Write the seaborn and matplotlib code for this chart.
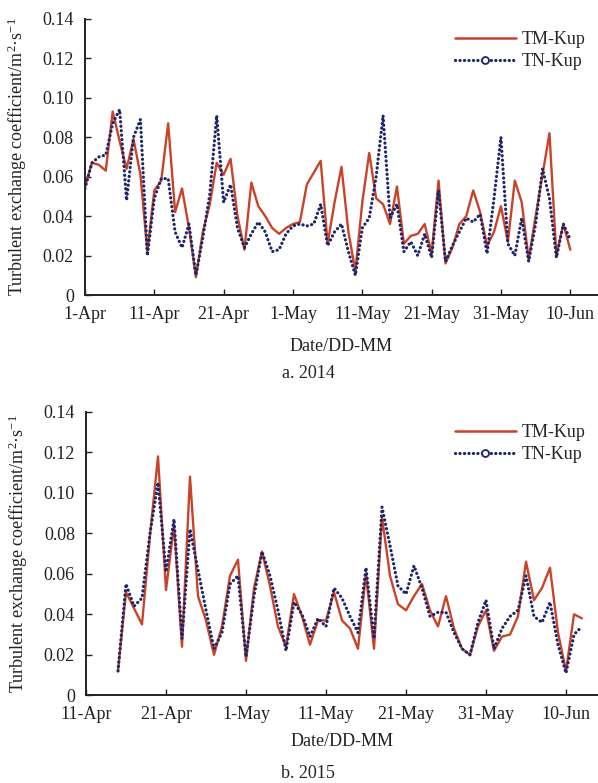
import numpy as np
import pandas as pd
import matplotlib
matplotlib.use("Agg")
import matplotlib.pyplot as plt
from matplotlib.lines import Line2D
import seaborn as sns

# ---------------- data ----------------
tick_labels_2014 = ["1-Apr", "11-Apr", "21-Apr", "1-May", "11-May", "21-May", "31-May", "10-Jun"]
tick_labels_2015 = ["11-Apr", "21-Apr", "1-May", "11-May", "21-May", "31-May", "10-Jun"]

# 2014: daily values starting 1-Apr (day 0)
start_2014 = 0
tm_2014 = [0.055, 0.067, 0.066, 0.063, 0.093, 0.078, 0.064, 0.079, 0.061, 0.022,
           0.053, 0.058, 0.087, 0.042, 0.054, 0.034, 0.009, 0.032, 0.046, 0.067,
           0.061, 0.069, 0.040, 0.023, 0.057, 0.045, 0.040, 0.034, 0.031, 0.034,
           0.036, 0.037, 0.056, 0.062, 0.068, 0.026, 0.047, 0.065, 0.032, 0.012,
           0.047, 0.072, 0.049, 0.046, 0.036, 0.055, 0.026, 0.030, 0.031, 0.036,
           0.021, 0.058, 0.016, 0.024, 0.036, 0.040, 0.053, 0.042, 0.025, 0.032,
           0.045, 0.027, 0.058, 0.047, 0.018, 0.040, 0.061, 0.082, 0.020, 0.036,
           0.023]
tn_2014 = [0.054, 0.067, 0.070, 0.071, 0.087, 0.094, 0.048, 0.080, 0.089, 0.020,
           0.049, 0.059, 0.059, 0.032, 0.024, 0.036, 0.010, 0.029, 0.051, 0.091,
           0.047, 0.056, 0.034, 0.024, 0.031, 0.037, 0.032, 0.022, 0.023, 0.031,
           0.035, 0.036, 0.035, 0.036, 0.046, 0.025, 0.032, 0.036, 0.022, 0.010,
           0.034, 0.039, 0.060, 0.091, 0.039, 0.046, 0.022, 0.027, 0.020, 0.031,
           0.019, 0.053, 0.017, 0.025, 0.032, 0.039, 0.037, 0.041, 0.021, 0.049,
           0.080, 0.026, 0.020, 0.039, 0.017, 0.036, 0.064, 0.049, 0.019, 0.036,
           0.028]

# 2015: daily values starting 15-Apr (day 4 after 11-Apr)
start_2015 = 4
tm_2015 = [0.012, 0.051, 0.043, 0.035, 0.079, 0.118, 0.052, 0.084, 0.024, 0.108,
           0.049, 0.037, 0.020, 0.034, 0.059, 0.067, 0.017, 0.053, 0.071, 0.054,
           0.034, 0.024, 0.050, 0.039, 0.025, 0.037, 0.037, 0.051, 0.037, 0.033,
           0.023, 0.060, 0.023, 0.088, 0.059, 0.045, 0.042, 0.049, 0.055, 0.042,
           0.034, 0.049, 0.033, 0.023, 0.020, 0.034, 0.042, 0.022, 0.029, 0.030,
           0.039, 0.066, 0.047, 0.053, 0.063, 0.031, 0.012, 0.040, 0.038]
tn_2015 = [0.012, 0.055, 0.044, 0.048, 0.080, 0.105, 0.061, 0.087, 0.028, 0.082,
           0.062, 0.042, 0.023, 0.031, 0.055, 0.059, 0.019, 0.049, 0.071, 0.059,
           0.042, 0.022, 0.046, 0.040, 0.029, 0.038, 0.034, 0.053, 0.048, 0.039,
           0.031, 0.063, 0.028, 0.093, 0.074, 0.054, 0.050, 0.064, 0.053, 0.039,
           0.041, 0.041, 0.031, 0.023, 0.020, 0.036, 0.047, 0.023, 0.033, 0.039,
           0.042, 0.059, 0.039, 0.036, 0.046, 0.025, 0.011, 0.030, 0.034]

y_ticks = [0, 0.02, 0.04, 0.06, 0.08, 0.10, 0.12, 0.14]
y_tick_labels = ["0", "0.02", "0.04", "0.06", "0.08", "0.10", "0.12", "0.14"]

# ---------------- style ----------------
sns.set_theme(style="ticks")
plt.rcParams["font.family"] = ["Liberation Serif", "DejaVu Serif"]
plt.rcParams["mathtext.fontset"] = "custom"
plt.rcParams["mathtext.rm"] = "Liberation Serif"
plt.rcParams["mathtext.it"] = "Liberation Serif:italic"

RED = "#c9432a"
NAVY = "#1d2668"
TXT = "#222222"
FS = 13
DOTS = (0, (0.05, 1.35))

fig = plt.figure(figsize=(5.98, 7.83), dpi=100)
ax1 = fig.add_axes([0.1421, 0.6232, 0.8579, 0.3528])
ax2 = fig.add_axes([0.1438, 0.1120, 0.8562, 0.3620])


def draw(ax, start, tm, tn, xmax, xt_labels, caption, cap_y, xlabelpad):
    x = np.arange(start, start + len(tm))
    df = pd.DataFrame({"day": x, "TM": tm, "TN": tn})
    sns.lineplot(data=df, x="day", y="TM", ax=ax, color=RED, linewidth=1.7,
                 solid_joinstyle="round")
    sns.lineplot(data=df, x="day", y="TN", ax=ax, color=NAVY, linewidth=2.3,
                 linestyle=DOTS, dash_capstyle="round")
    ax.set_xlim(0, xmax)
    ax.set_ylim(0, 0.14)
    ax.set_xticks(np.arange(0, 10 * len(xt_labels), 10))
    ax.set_xticklabels(xt_labels)
    ax.set_yticks(y_ticks)
    ax.set_yticklabels(y_tick_labels)
    ax.tick_params(direction="in", length=4, width=1.0, colors=TXT,
                   labelsize=FS, pad=8)
    ax.tick_params(axis="x", pad=8)
    for s in ["top", "right"]:
        ax.spines[s].set_visible(False)
    for s in ["left", "bottom"]:
        ax.spines[s].set_linewidth(1.4)
        ax.spines[s].set_color("#222222")
    ax.set_xlabel("Date/DD-MM", fontsize=FS, color=TXT, labelpad=xlabelpad)
    ax.set_ylabel("Turbulent exchange coefficient/m$^{2}$·s$^{-1}$",
                  fontsize=FS, color=TXT, labelpad=10)
    handles = [
        Line2D([], [], color=RED, linewidth=1.8),
        Line2D([], [], color=NAVY, linewidth=2.3, linestyle=DOTS,
               dash_capstyle="round", marker="o", markersize=5,
               markerfacecolor="white", markeredgecolor=NAVY, markeredgewidth=1.3),
    ]
    ax.legend(handles, ["TM-Kup", "TN-Kup"], loc="upper right", frameon=False,
              fontsize=FS, handlelength=3.4, handletextpad=0.3,
              labelspacing=0.25, borderaxespad=0.3, numpoints=1)
    fig.text(0.515, cap_y, caption, ha="center", va="center",
             fontsize=FS, color=TXT)


draw(ax1, start_2014, tm_2014, tn_2014, 74, tick_labels_2014, "a. 2014", 1 - 374 / 783, 11)
draw(ax2, start_2015, tm_2015, tn_2015, 64, tick_labels_2015, "b. 2015", 1 - 773 / 783, 7)

fig.savefig("out.png", dpi=100)
